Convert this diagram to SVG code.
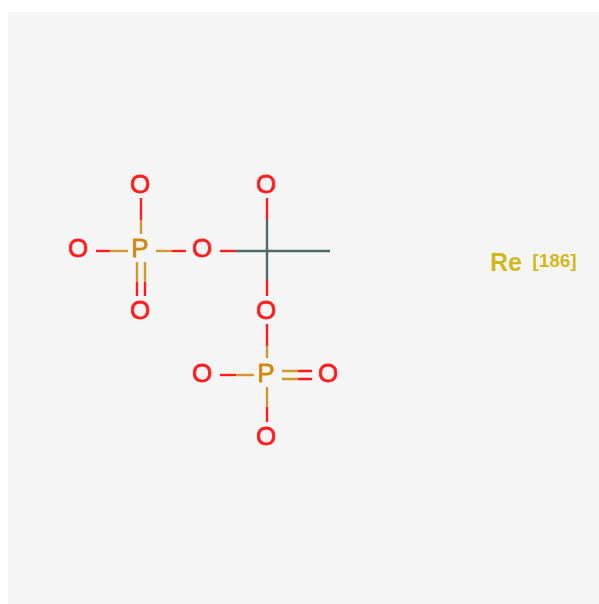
<svg xmlns="http://www.w3.org/2000/svg" width="599" height="604" viewBox="0 0 599 604">
<defs><filter id="soft" x="-5%" y="-5%" width="110%" height="110%"><feGaussianBlur stdDeviation="0.45"/></filter></defs>
<style>
.b{stroke-width:2.4;fill:none;stroke-linecap:butt}
.r{stroke:#ff1f1f}.g{stroke:#d0982f}.c{stroke:#4f6a6a}
text{font-family:"Liberation Sans",Arial,sans-serif;text-anchor:middle}
.a{font-size:26px;stroke-width:0.8}
.o{fill:#ff1f1f;stroke:#ff1f1f}.p{fill:#cf8a12;stroke:#cf8a12}
.re{fill:#d4b71c;font-weight:bold}
</style>
<rect width="599" height="604" fill="#fff"/>
<rect x="8" y="12" width="591" height="592" fill="#f5f5f5"/>
<g filter="url(#soft)">
<g id="connectors">
<path class="b r" d="M141 198V220"/><path class="b g" d="M141 220V234"/>
<path class="b r" d="M96 251H110"/><path class="b g" d="M110 251H128"/>
<path class="b g" d="M156 251H172"/><path class="b r" d="M172 251H186"/>
<path class="b g" d="M137 262V282M145 262V282"/><path class="b r" d="M137 282V296M145 282V296"/>
<path class="b r" d="M267 198V220"/><path class="b c" d="M267 220V280"/><path class="b r" d="M267 280V296"/>
<path class="b r" d="M220 251H236"/><path class="b c" d="M236 251H330"/>
<path class="b r" d="M267 324V346"/><path class="b g" d="M267 346V358"/>
<path class="b r" d="M220 375H236"/><path class="b g" d="M236 375H254"/>
<path class="b g" d="M282 371H298M282 379H298"/><path class="b r" d="M298 371H312M298 379H312"/>
<path class="b g" d="M267 387V407"/><path class="b r" d="M267 407V422"/>
</g>
<g id="p1"><text class="a p" x="140" y="257">P</text></g>
<g id="o1"><text class="a o" x="140" y="193">O</text></g>
<g id="o2"><text class="a o" x="78" y="257">O</text></g>
<g id="o3"><text class="a o" x="140" y="319">O</text></g>
<g id="o4"><text class="a o" x="202" y="257">O</text></g>
<g id="o5"><text class="a o" x="266" y="193">O</text></g>
<g id="o6"><text class="a o" x="266" y="319">O</text></g>
<g id="p2"><text class="a p" x="266" y="382">P</text></g>
<g id="o7"><text class="a o" x="202" y="382">O</text></g>
<g id="o8"><text class="a o" x="328" y="382">O</text></g>
<g id="o9"><text class="a o" x="266" y="445">O</text></g>
<g id="re"><text class="re" x="506" y="271" font-size="25">Re</text><text class="re" x="554.5" y="267" font-size="19">[186]</text></g>
</g>
</svg>
